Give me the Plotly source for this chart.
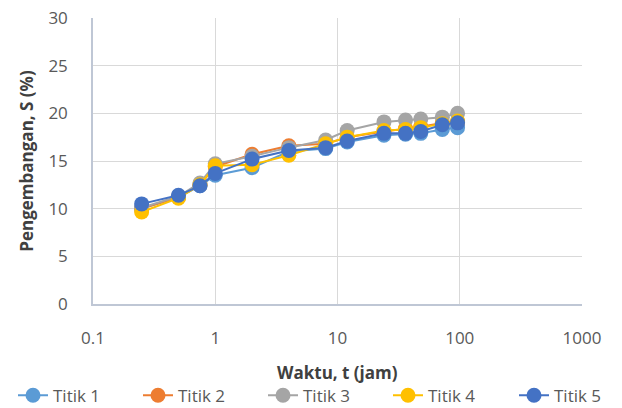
import plotly.graph_objects as go

waktu = [0.25, 0.5, 0.75, 1, 2, 4, 8, 12, 24, 36, 48, 72, 96]
titik_1 = [10.0, 11.2, 12.4, 13.5, 14.3, 16.0, 16.3, 17.0, 17.7, 17.8, 17.9, 18.3, 18.5]
titik_2 = [10.0, 11.2, 12.5, 14.4, 15.7, 16.6, 16.8, 17.5, 18.1, 18.4, 18.6, 19.0, 19.1]
titik_3 = [10.1, 11.3, 12.7, 14.7, 15.5, 16.4, 17.2, 18.2, 19.1, 19.3, 19.4, 19.6, 20.0]
titik_4 = [9.65, 11.1, 12.5, 14.5, 14.6, 15.6, 16.8, 17.5, 18.2, 18.3, 18.5, 18.9, 19.2]
titik_5 = [10.5, 11.4, 12.4, 13.7, 15.2, 16.1, 16.4, 17.1, 17.9, 17.9, 18.1, 18.8, 19.0]

series = [
    ("Titik 1", titik_1, "#5B9BD5"),
    ("Titik 2", titik_2, "#ED7D31"),
    ("Titik 3", titik_3, "#A5A5A5"),
    ("Titik 4", titik_4, "#FFC000"),
    ("Titik 5", titik_5, "#4472C4"),
]

font_family = "Open Sans, Liberation Sans, sans-serif"
legend_ids = ["legend", "legend2", "legend3", "legend4", "legend5"]
legend_left_px = [13, 138, 263, 388, 514]

fig = go.Figure()
for (name, vals, col), lid in zip(series, legend_ids):
    fig.add_trace(go.Scatter(
        x=waktu, y=vals, name=name, mode="lines+markers",
        line=dict(color=col, width=2),
        marker=dict(color=col, size=15, line=dict(width=0)),
        legend=lid,
    ))

legend_common = dict(orientation="h", xref="container", yref="container",
                     xanchor="left", y=0.03, yanchor="middle",
                     font=dict(size=17, color="#595959"),
                     bgcolor="rgba(0,0,0,0)")
legend_layout = {}
for lid, lx in zip(legend_ids, legend_left_px):
    legend_layout[lid] = dict(legend_common, x=lx / 622)

fig.update_layout(
    width=622, height=408,
    margin=dict(l=93, r=40, t=18, b=104, autoexpand=False),
    paper_bgcolor="white", plot_bgcolor="white",
    font=dict(family=font_family, color="#595959", size=16),
    showlegend=True,
    xaxis=dict(
        type="log", range=[-1, 3],
        tickvals=[0.1, 1, 10, 100, 1000], ticktext=["0.1", "1", "10", "100", "1000"],
        showgrid=True, gridcolor="#D9D9D9", gridwidth=1,
        showline=True, linecolor="#BFC7D5", linewidth=1.5,
        ticks="", zeroline=False, automargin=True,
        ticklabelstandoff=18,
        tickfont=dict(size=17, color="#595959"),
    ),
    yaxis=dict(
        range=[0, 30], tickvals=[0, 5, 10, 15, 20, 25, 30],
        showgrid=True, gridcolor="#D9D9D9", gridwidth=1,
        showline=True, linecolor="#BFC7D5", linewidth=1.5,
        ticks="", zeroline=False, automargin=True,
        ticklabelstandoff=20,
        tickfont=dict(size=17, color="#595959"),
        title=dict(text="<b>Pengembangan, S (%)</b>", font=dict(size=17, color="#404040"), standoff=10),
    ),
    annotations=[dict(
        text="<b>Waktu, t (jam)</b>", xref="paper", yref="paper",
        x=0.5, y=-0.238, xanchor="center", yanchor="middle", showarrow=False,
        font=dict(size=17, color="#404040", family=font_family),
    )],
    **legend_layout,
)

fig.write_html("out.html", config={"displayModeBar": False},
               post_script="document.body.style.margin='0';document.body.style.overflow='hidden';")
